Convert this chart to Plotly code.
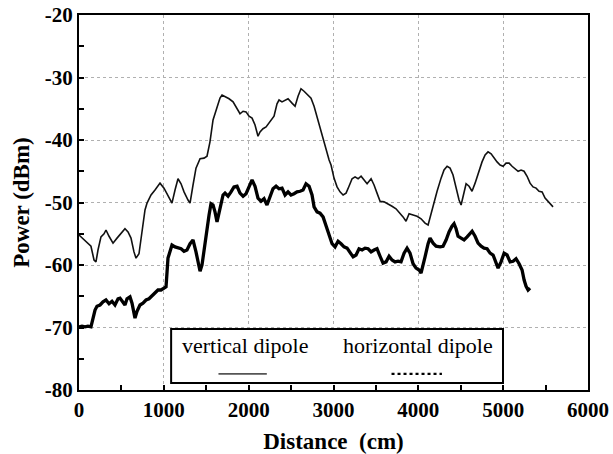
import plotly.graph_objects as go

# Received power along the measurement path, vertical dipole receiver
vert_dist = [0, 59, 106, 141, 177, 200, 224, 259, 295, 318, 354, 401, 448, 495, 542, 578, 613, 648,
             672, 707, 743, 778, 802, 849, 896, 955, 1002, 1049, 1096, 1132, 1167, 1203, 1238, 1285,
             1309, 1344, 1379, 1427, 1474, 1509, 1544, 1580, 1627, 1662, 1686, 1733, 1769, 1816, 1863,
             1898, 1934, 1969, 2004, 2040, 2075, 2110, 2134, 2169, 2205, 2252, 2299, 2334, 2358, 2393,
             2429, 2464, 2511, 2547, 2582, 2617, 2653, 2700, 2735, 2771, 2806, 2841, 2877, 2912, 2948,
             2971, 3006, 3042, 3077, 3113, 3148, 3183, 3219, 3254, 3290, 3325, 3360, 3396, 3443, 3478,
             3513, 3549, 3596, 3643, 3690, 3737, 3785, 3820, 3855, 3891, 3938, 3985, 4032, 4079, 4115,
             4150, 4185, 4221, 4268, 4303, 4339, 4374, 4409, 4445, 4480, 4504, 4527, 4563, 4598, 4633,
             4669, 4704, 4751, 4787, 4822, 4858, 4893, 4928, 4964, 4999, 5034, 5070, 5105, 5140, 5176,
             5211, 5246, 5282, 5317, 5352, 5388, 5423, 5459, 5494, 5529, 5565, 5588]
vert_power = [-55.2, -56.0, -56.6, -57.0, -59.2, -59.5, -57.6, -55.5, -55.0, -54.4, -55.4, -56.5, -55.7,
              -54.9, -54.2, -54.7, -55.7, -57.9, -58.9, -58.2, -54.4, -51.2, -50.1, -48.8, -48.0, -46.9,
              -47.7, -49.0, -50.1, -48.0, -46.2, -47.0, -48.3, -49.6, -50.1, -47.2, -44.5, -43.0, -42.9,
              -42.6, -40.3, -36.8, -34.6, -33.3, -32.8, -33.1, -33.4, -33.9, -34.9, -35.8, -35.4, -35.5,
              -36.2, -36.5, -37.6, -39.4, -38.7, -38.2, -37.9, -37.1, -36.2, -34.2, -33.6, -33.9, -33.6,
              -33.4, -34.1, -34.6, -33.0, -31.8, -32.2, -32.8, -33.3, -34.6, -36.3, -38.4, -40.0, -41.6,
              -43.2, -44.0, -46.1, -47.5, -48.3, -48.8, -48.5, -47.4, -46.2, -45.9, -46.2, -45.8, -46.4,
              -47.0, -46.2, -47.2, -48.5, -49.8, -49.9, -50.2, -50.6, -51.0, -51.7, -52.3, -53.0, -51.8,
              -52.0, -52.2, -52.6, -53.3, -53.6, -51.8, -49.6, -48.2, -46.1, -44.8, -44.2, -44.5, -45.6,
              -47.7, -49.6, -50.4, -48.9, -47.0, -47.4, -48.2, -46.9, -45.3, -43.5, -42.4, -41.9, -42.2,
              -42.9, -43.5, -44.0, -44.2, -43.7, -43.7, -44.2, -44.6, -45.0, -44.8, -45.0, -45.8, -46.9,
              -47.5, -47.7, -48.2, -48.3, -49.3, -49.8, -50.2, -50.7]

# Received power along the measurement path, horizontal dipole receiver
horz_dist = [0, 35, 71, 106, 141, 165, 189, 212, 248, 283, 318, 354, 389, 424, 460, 483, 519, 542, 566,
             601, 625, 660, 684, 719, 754, 790, 825, 861, 896, 931, 967, 1002, 1026, 1049, 1073, 1096,
             1132, 1167, 1203, 1238, 1273, 1309, 1344, 1379, 1403, 1427, 1450, 1474, 1497, 1533, 1556,
             1580, 1603, 1627, 1650, 1674, 1698, 1721, 1757, 1792, 1827, 1863, 1898, 1934, 1969, 2004,
             2040, 2075, 2110, 2146, 2181, 2216, 2252, 2287, 2323, 2358, 2393, 2429, 2464, 2499, 2535,
             2570, 2606, 2641, 2676, 2712, 2747, 2771, 2806, 2841, 2877, 2912, 2948, 2983, 3018, 3054,
             3089, 3124, 3160, 3195, 3231, 3266, 3301, 3337, 3372, 3408, 3443, 3478, 3513, 3549, 3584,
             3620, 3655, 3690, 3726, 3761, 3796, 3832, 3867, 3902, 3938, 3973, 4009, 4032, 4056, 4079,
             4115, 4138, 4174, 4209, 4256, 4291, 4327, 4362, 4397, 4421, 4445, 4468, 4504, 4539, 4575,
             4610, 4634, 4669, 4704, 4740, 4775, 4810, 4846, 4881, 4916, 4940, 4975, 5011, 5046, 5082,
             5117, 5152, 5188, 5223, 5247, 5270, 5294, 5317]
horz_power = [-69.9, -69.8, -69.9, -69.8, -69.9, -68.5, -67.2, -66.6, -66.4, -65.9, -65.6, -66.2, -65.8,
              -66.4, -65.4, -65.3, -66.1, -66.4, -65.4, -65.1, -66.1, -68.5, -67.4, -66.4, -66.1, -65.6,
              -65.4, -64.9, -64.3, -64.0, -64.0, -63.7, -63.5, -58.9, -57.6, -56.8, -57.1, -57.3, -57.4,
              -57.8, -57.6, -56.6, -56.0, -57.9, -59.5, -61.0, -60.0, -57.6, -54.7, -52.0, -50.2, -50.4,
              -51.5, -53.1, -51.7, -50.1, -48.8, -48.5, -49.0, -48.3, -47.5, -47.4, -48.5, -49.0, -48.6,
              -47.5, -46.4, -47.4, -49.3, -49.8, -49.4, -50.4, -49.0, -47.8, -47.4, -47.8, -47.7, -48.8,
              -48.3, -48.8, -48.6, -48.3, -48.2, -48.0, -47.0, -47.4, -48.8, -50.7, -51.5, -51.7, -52.3,
              -53.8, -55.2, -56.6, -57.1, -56.2, -56.6, -57.1, -57.3, -57.9, -58.7, -58.4, -57.4, -57.6,
              -57.3, -57.4, -57.9, -57.6, -57.4, -58.6, -59.7, -59.5, -58.6, -59.2, -59.5, -59.4, -59.5,
              -58.1, -57.3, -58.1, -59.8, -60.5, -60.8, -61.3, -60.2, -58.7, -56.6, -55.7, -56.5, -57.0,
              -57.1, -57.0, -56.0, -54.7, -53.8, -53.4, -54.2, -55.4, -55.7, -56.0, -55.5, -54.9, -54.6,
              -55.4, -56.5, -57.0, -57.3, -57.4, -58.1, -58.4, -59.5, -60.5, -59.5, -58.1, -58.4, -59.5,
              -59.4, -59.0, -59.8, -60.8, -62.4, -63.4, -64.0, -63.7]

x_ticks = [0, 1000, 2000, 3000, 4000, 5000, 6000]
y_ticks = [-80, -70, -60, -50, -40, -30, -20]
series_names = ["vertical dipole", "horizontal dipole"]

SERIF = "Liberation Serif"

fig = go.Figure()
fig.add_trace(go.Scatter(x=vert_dist, y=vert_power, mode="lines", name=series_names[0],
                         line=dict(color="#111111", width=1.6), showlegend=False))
fig.add_trace(go.Scatter(x=horz_dist, y=horz_power, mode="lines", name=series_names[1],
                         line=dict(color="#000000", width=3.3), showlegend=False))

axis_common = dict(
    showline=True, linecolor="black", linewidth=2, mirror=True,
    ticks="inside", ticklen=5, tickwidth=1.5, tickcolor="black",
    showgrid=True, gridcolor="#b0b0b0", gridwidth=1, griddash="dot",
    zeroline=False, automargin=False,
    tickfont=dict(family=SERIF, size=21, color="black"),
)

fig.update_xaxes(**axis_common, range=[0, 6000], tickvals=x_ticks,
                 ticktext=["<b>%d</b>" % v for v in x_ticks],
                 minor=dict(dtick=500, ticks="inside", ticklen=5, tickcolor="black", showgrid=False),
                 title=dict(text="<b>Distance\u00a0 (cm)</b>", standoff=14,
                            font=dict(family=SERIF, size=23, color="black")))
fig.update_yaxes(**axis_common, range=[-80, -20], tickvals=y_ticks,
                 ticktext=["<b>%d</b>" % v for v in y_ticks],
                 minor=dict(dtick=5, ticks="inside", ticklen=5, tickcolor="black", showgrid=False),
                 title=dict(text="<b>Power (dBm)</b>", standoff=9,
                            font=dict(family=SERIF, size=23, color="black")))

# Legend panel: names above short line samples, inside a framed box
legend_shapes = [
    dict(type="rect", xref="paper", yref="paper", x0=0.181, x1=0.833, y0=0.019, y1=0.163,
         line=dict(color="black", width=2), fillcolor="white", layer="above"),
    dict(type="line", xref="paper", yref="paper", x0=0.274, x1=0.369, y0=0.043, y1=0.043,
         line=dict(color="#555555", width=1.6), layer="above"),
    dict(type="line", xref="paper", yref="paper", x0=0.614, x1=0.713, y0=0.043, y1=0.043,
         line=dict(color="black", width=2.4, dash="dot"), layer="above"),
]
legend_labels = [
    dict(text=series_names[0], xref="paper", yref="paper", x=0.198, y=0.118,
         xanchor="left", yanchor="middle", showarrow=False,
         font=dict(family=SERIF, size=22, color="black")),
    dict(text=series_names[1], xref="paper", yref="paper", x=0.514, y=0.118,
         xanchor="left", yanchor="middle", showarrow=False,
         font=dict(family=SERIF, size=22, color="black")),
]

fig.update_layout(
    width=613, height=454,
    margin=dict(l=79, r=25, t=15, b=64),
    paper_bgcolor="white", plot_bgcolor="white",
    font=dict(family=SERIF),
    shapes=legend_shapes, annotations=legend_labels,
)

fig.write_html("out.html")
